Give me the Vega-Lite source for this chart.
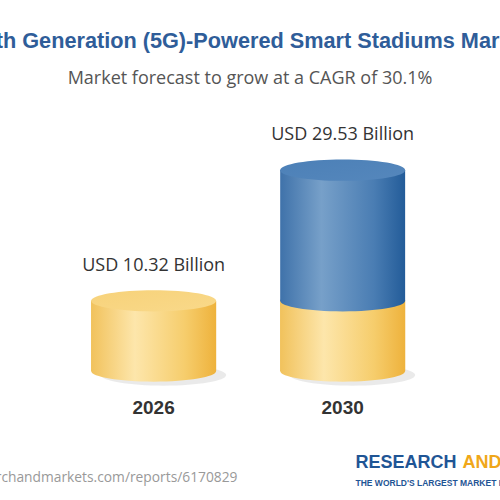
{
  "$schema": "https://vega.github.io/schema/vega-lite/v6.json",
  "width": 500,
  "height": 272,
  "autosize": {"type": "none"},
  "padding": {"top": 99, "left": 0, "right": 0, "bottom": 129},
  "background": "white",
  "config": {"view": {"stroke": null}},
  "title": {
    "text": "Fifth Generation (5G)-Powered Smart Stadiums Market",
    "subtitle": "Market forecast to grow at a CAGR of 30.1%",
    "anchor": "middle",
    "frame": "group",
    "font": "Liberation Sans",
    "fontSize": 21.7,
    "fontWeight": "bold",
    "color": "#2f5d99",
    "subtitleFont": "Open Sans",
    "subtitleFontSize": 18,
    "subtitleColor": "#555555",
    "subtitlePadding": 17,
    "offset": 11
  },
  "data": {
    "values": [
      {"year": "2026", "seg": "base", "y0": 0, "y1": 10.32, "label": "USD 10.32 Billion"},
      {"year": "2030", "seg": "base", "y0": 0, "y1": 10.32, "label": null},
      {"year": "2030", "seg": "growth", "y0": 10.32, "y1": 29.53, "label": "USD 29.53 Billion"}
    ]
  },
  "resolve": {"axis": {"x": "independent", "y": "independent"}},
  "layer": [
    {
      "transform": [{"filter": "datum.seg == 'base'"}],
      "mark": {
        "type": "bar",
        "fill": {
          "gradient": "linear", "x1": 0, "x2": 1, "y1": 0, "y2": 0,
          "stops": [
            {"offset": 0, "color": "#f1c25c"},
            {"offset": 0.35, "color": "#fde6ab"},
            {"offset": 0.75, "color": "#f6cd6c"},
            {"offset": 1, "color": "#eeb23c"}
          ]
        }
      },
      "encoding": {
        "x": {
          "field": "year",
          "type": "nominal",
          "scale": {"paddingInner": 0.339, "paddingOuter": 0.492, "align": 0.49},
          "axis": {
            "orient": "bottom",
            "labelAngle": 0,
            "labelFont": "Liberation Sans",
            "labelFontSize": 19,
            "labelFontWeight": "bold",
            "labelColor": "#333333",
            "labelPadding": 27,
            "ticks": false,
            "domain": false,
            "grid": false,
            "title": "www.researchandmarkets.com/reports/6170829",
            "titleFont": "Open Sans",
            "titleFontSize": 13.8,
            "titleFontWeight": "normal",
            "titleColor": "#999999",
            "titleAlign": "right",
            "titleBaseline": "middle",
            "titleX": 237,
            "titleY": 106
          }
        },
        "y": {
          "field": "y1",
          "type": "quantitative",
          "scale": {"domain": [0, 40]},
          "axis": {
            "orient": "left",
            "labels": false,
            "ticks": false,
            "domain": false,
            "grid": false,
            "title": "RESEARCH",
            "titleAngle": 0,
            "titleFont": "Liberation Sans",
            "titleFontSize": 18,
            "titleFontWeight": "bold",
            "titleColor": "#1f5595",
            "titleAlign": "left",
            "titleBaseline": "middle",
            "titleX": 355,
            "titleY": 363
          }
        },
        "y2": {"field": "y0"}
      }
    },
    {
      "transform": [{"filter": "datum.seg == 'base'"}],
      "mark": {
        "type": "point",
        "shape": "M-1,0A1,0.17,0,1,1,1,0A1,0.17,0,1,1,-1,0Z",
        "size": 15625,
        "filled": true,
        "opacity": 0.6,
        "fill": "#dcdcdc",
        "xOffset": 10,
        "yOffset": 4
      },
      "encoding": {
        "x": {"field": "year", "type": "nominal", "axis": null},
        "y": {"field": "y0", "type": "quantitative", "axis": null}
      }
    },
    {
      "transform": [{"filter": "datum.seg == 'base'"}],
      "mark": {
        "type": "point",
        "shape": "M-1,0A1,0.17,0,1,1,1,0A1,0.17,0,1,1,-1,0Z",
        "size": 15625,
        "filled": true,
        "opacity": 1,
        "fill": {
          "gradient": "linear", "x1": 0, "x2": 1, "y1": 0, "y2": 0,
          "stops": [
            {"offset": 0, "color": "#f1c25c"},
            {"offset": 0.35, "color": "#fde6ab"},
            {"offset": 0.75, "color": "#f6cd6c"},
            {"offset": 1, "color": "#eeb23c"}
          ]
        }
      },
      "encoding": {
        "x": {"field": "year", "type": "nominal", "axis": null},
        "y": {"field": "y0", "type": "quantitative", "axis": null}
      }
    },
    {
      "transform": [{"filter": "datum.seg == 'base'"}],
      "mark": {
        "type": "bar",
        "fill": {
          "gradient": "linear", "x1": 0, "x2": 1, "y1": 0, "y2": 0,
          "stops": [
            {"offset": 0, "color": "#f1c25c"},
            {"offset": 0.35, "color": "#fde6ab"},
            {"offset": 0.75, "color": "#f6cd6c"},
            {"offset": 1, "color": "#eeb23c"}
          ]
        }
      },
      "encoding": {
        "x": {"field": "year", "type": "nominal", "axis": null},
        "y": {"field": "y1", "type": "quantitative", "axis": null},
        "y2": {"field": "y0"}
      }
    },
    {
      "transform": [{"filter": "datum.seg == 'growth'"}],
      "mark": {
        "type": "point",
        "shape": "M-1,0A1,0.17,0,1,1,1,0A1,0.17,0,1,1,-1,0Z",
        "size": 15625,
        "filled": true,
        "opacity": 1,
        "fill": {
          "gradient": "linear", "x1": 0, "x2": 1, "y1": 0, "y2": 0,
          "stops": [
            {"offset": 0, "color": "#3f72aa"},
            {"offset": 0.33, "color": "#77a0c9"},
            {"offset": 0.75, "color": "#4a7db3"},
            {"offset": 1, "color": "#235c99"}
          ]
        }
      },
      "encoding": {
        "x": {"field": "year", "type": "nominal", "axis": null},
        "y": {"field": "y0", "type": "quantitative", "axis": null}
      }
    },
    {
      "transform": [{"filter": "datum.seg == 'growth'"}],
      "mark": {
        "type": "bar",
        "fill": {
          "gradient": "linear", "x1": 0, "x2": 1, "y1": 0, "y2": 0,
          "stops": [
            {"offset": 0, "color": "#3f72aa"},
            {"offset": 0.33, "color": "#77a0c9"},
            {"offset": 0.75, "color": "#4a7db3"},
            {"offset": 1, "color": "#235c99"}
          ]
        }
      },
      "encoding": {
        "x": {"field": "year", "type": "nominal", "axis": null},
        "y": {"field": "y1", "type": "quantitative", "axis": null},
        "y2": {"field": "y0"}
      }
    },
    {
      "transform": [{"filter": "datum.seg == 'base' && datum.label != null"}],
      "mark": {
        "type": "point",
        "shape": "M-1,0A1,0.17,0,1,1,1,0A1,0.17,0,1,1,-1,0Z",
        "size": 15625,
        "filled": true,
        "opacity": 1,
        "fill": {
          "gradient": "linear", "x1": 0, "x2": 1, "y1": 0, "y2": 1,
          "stops": [
            {"offset": 0, "color": "#f7d27a"},
            {"offset": 1, "color": "#f9d98a"}
          ]
        }
      },
      "encoding": {
        "x": {"field": "year", "type": "nominal", "axis": null},
        "y": {"field": "y1", "type": "quantitative", "axis": null}
      }
    },
    {
      "transform": [{"filter": "datum.seg == 'growth'"}],
      "mark": {
        "type": "point",
        "shape": "M-1,0A1,0.17,0,1,1,1,0A1,0.17,0,1,1,-1,0Z",
        "size": 15625,
        "filled": true,
        "opacity": 1,
        "fill": {
          "gradient": "linear", "x1": 0, "x2": 1, "y1": 0, "y2": 1,
          "stops": [
            {"offset": 0, "color": "#4c80b7"},
            {"offset": 1, "color": "#5587bc"}
          ]
        }
      },
      "encoding": {
        "x": {"field": "year", "type": "nominal", "axis": null},
        "y": {"field": "y1", "type": "quantitative", "axis": null}
      }
    },
    {
      "transform": [{"filter": "datum.label != null"}],
      "mark": {
        "type": "text",
        "dy": -35,
        "font": "Open Sans",
        "fontSize": 18,
        "color": "#333333",
        "baseline": "middle"
      },
      "encoding": {
        "x": {
          "field": "year",
          "type": "nominal",
          "axis": {
            "orient": "top",
            "labels": false,
            "ticks": false,
            "domain": false,
            "grid": false,
            "title": "THE WORLD'S LARGEST MARKET RESEARCH STORE",
            "titleFont": "Liberation Sans",
            "titleFontSize": 8.5,
            "titleFontWeight": "bold",
            "titleColor": "#1f5595",
            "titleAlign": "left",
            "titleBaseline": "middle",
            "titleX": 355,
            "titleY": 383
          }
        },
        "y": {
          "field": "y1",
          "type": "quantitative",
          "axis": {
            "orient": "right",
            "labels": false,
            "ticks": false,
            "domain": false,
            "grid": false,
            "title": "AND MARKETS",
            "titleAngle": 0,
            "titleFont": "Liberation Sans",
            "titleFontSize": 18,
            "titleFontWeight": "bold",
            "titleColor": "#f0a71a",
            "titleAlign": "left",
            "titleBaseline": "middle",
            "titleX": -38,
            "titleY": 363
          }
        },
        "text": {"field": "label"}
      }
    }
  ]
}
